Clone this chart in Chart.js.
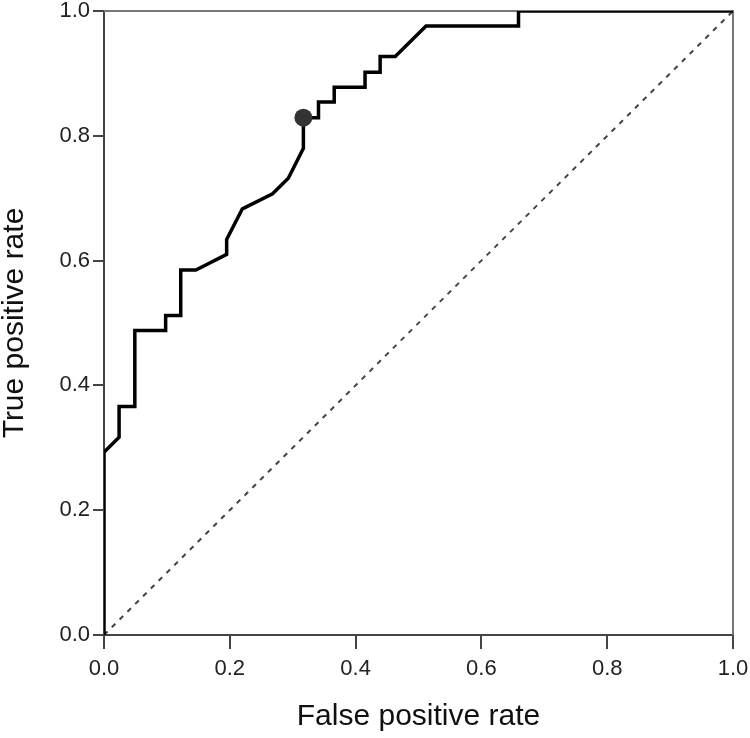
<!DOCTYPE html>
<html>
<head>
<meta charset="utf-8">
<script src="https://cdn.jsdelivr.net/npm/chart.js@4.4.0/dist/chart.umd.min.js"></script>
<style>
    html, body { margin: 0; padding: 0; background: #fff; }
    #wrap { width: 750px; height: 738px; }
</style>
</head>
<body>
<div id="wrap"><canvas id="rocChart" width="750" height="738"></canvas></div>
<script>
// ROC curve points
const fpr = [0, 0, 0.024, 0.024, 0.049, 0.049, 0.098, 0.098, 0.122, 0.122, 0.146, 0.195, 0.195, 0.220, 0.268, 0.293, 0.317, 0.317, 0.341, 0.341, 0.366, 0.366, 0.415, 0.415, 0.439, 0.439, 0.463, 0.512, 0.659, 0.659, 1];
const tpr = [0, 0.293, 0.317, 0.366, 0.366, 0.488, 0.488, 0.512, 0.512, 0.585, 0.585, 0.610, 0.634, 0.683, 0.707, 0.732, 0.780, 0.829, 0.829, 0.854, 0.854, 0.878, 0.878, 0.902, 0.902, 0.927, 0.927, 0.976, 0.976, 1, 1];

// chosen cut-off point
const cutoffX = [0.317];
const cutoffY = [0.829];

// reference line
const diagX = [0, 1];
const diagY = [0, 1];

const tickValues = [0, 0.2, 0.4, 0.6, 0.8, 1];
const xTitle = 'False positive rate';
const yTitle = 'True positive rate';

const toPoints = (xs, ys) => xs.map((x, i) => ({ x: x, y: ys[i] }));

const fontFamily = "'Liberation Sans', Arial, sans-serif";

// frame on top and right side of the plot
const framePlugin = {
    id: 'frame',
    beforeDatasetsDraw(chart) {
        const { ctx, chartArea } = chart;
        ctx.save();
        ctx.strokeStyle = '#777';
        ctx.lineWidth = 2;
        ctx.beginPath();
        ctx.moveTo(chartArea.left, chartArea.top);
        ctx.lineTo(chartArea.right, chartArea.top);
        ctx.lineTo(chartArea.right, chartArea.bottom);
        ctx.stroke();
        ctx.restore();
    }
};

const tickFont = { family: fontFamily, size: 22, lineHeight: 1 };
const titleFont = { family: fontFamily, size: 30, lineHeight: 1 };

const fixTicks = (scale) => {
    scale.ticks = tickValues.map(v => ({ value: v }));
};

new Chart(document.getElementById('rocChart'), {
    type: 'scatter',
    data: {
        datasets: [
            {
                data: toPoints(cutoffX, cutoffY),
                pointRadius: 9,
                pointBackgroundColor: '#333',
                pointBorderWidth: 0,
                showLine: false,
                order: 0,
            },
            {
                data: toPoints(fpr, tpr),
                showLine: true,
                borderColor: '#000',
                borderWidth: 3.5,
                pointRadius: 0,
                tension: 0,
                order: 1,
            },
            {
                data: toPoints(diagX, diagY),
                showLine: true,
                borderColor: '#444',
                borderWidth: 2,
                borderDash: [5, 6],
                pointRadius: 0,
                order: 2,
            },
        ],
    },
    options: {
        responsive: false,
        animation: false,
        layout: { padding: { left: 0, top: 11, right: 17, bottom: 6 } },
        plugins: {
            legend: { display: false },
            tooltip: { enabled: false },
        },
        scales: {
            x: {
                type: 'linear',
                min: 0,
                max: 1,
                afterBuildTicks: fixTicks,
                afterFit: (scale) => {
                    scale.height = 97;
                    scale.paddingLeft = 0;
                    scale.paddingRight = 0;
                },
                border: { display: true, color: '#444', width: 2 },
                grid: { drawOnChartArea: false, drawTicks: true, tickLength: 14, color: '#444', lineWidth: 2 },
                ticks: {
                    color: '#222',
                    font: tickFont,
                    padding: 9,
                    maxRotation: 0,
                    callback: (v) => Number(v).toFixed(1),
                },
                title: {
                    display: true,
                    text: xTitle,
                    color: '#111',
                    font: titleFont,
                    padding: 0,
                },
            },
            y: {
                type: 'linear',
                min: 0,
                max: 1,
                afterBuildTicks: fixTicks,
                afterFit: (scale) => {
                    scale.width = 104;
                    scale.paddingTop = 0;
                    scale.paddingBottom = 0;
                },
                border: { display: true, color: '#444', width: 2 },
                grid: { drawOnChartArea: false, drawTicks: true, tickLength: 11, color: '#444', lineWidth: 2 },
                ticks: {
                    color: '#222',
                    font: tickFont,
                    padding: 3,
                    callback: (v) => Number(v).toFixed(1),
                },
                title: {
                    display: true,
                    text: yTitle,
                    color: '#111',
                    font: titleFont,
                    padding: 0,
                },
            },
        },
    },
    plugins: [framePlugin],
});
</script>
</body>
</html>
